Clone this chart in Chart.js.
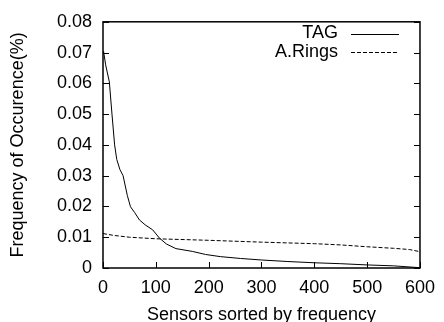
<!DOCTYPE html>
<html>
<head>
<meta charset="utf-8">
<script src="https://cdn.jsdelivr.net/npm/chart.js@4"></script>
<style>
  html, body { margin: 0; padding: 0; background: #fff; }
</style>
</head>
<body>
<canvas id="chart" width="444" height="322"></canvas>
<script>
const seriesNames = ["TAG", "A.Rings"];

const tagX = [1, 5, 12, 17, 22, 26, 32, 38, 46, 52, 60, 69, 80, 94, 107, 120, 138, 169, 194, 222, 260, 300, 350, 400, 450, 500, 550, 600];
const tagY = [0.0705, 0.066, 0.0605, 0.050, 0.040, 0.0353, 0.032, 0.030, 0.0236, 0.0199, 0.018, 0.0156, 0.0140, 0.0124, 0.0097, 0.0078, 0.0063, 0.0054, 0.0044, 0.0037, 0.0031, 0.0026, 0.0021, 0.0017, 0.0014, 0.0010, 0.0007, 0.0001];

const ringsX = [0, 20, 50, 100, 200, 300, 400, 450, 500, 550, 580, 600];
const ringsY = [0.0112, 0.0106, 0.0100, 0.0095, 0.0090, 0.0084, 0.0079, 0.0075, 0.0069, 0.0064, 0.0060, 0.0053];

const xTicks = [0, 100, 200, 300, 400, 500, 600];
const xTickLabels = ["0", "100", "200", "300", "400", "500", "600"];
const yTicks = [0, 0.01, 0.02, 0.03, 0.04, 0.05, 0.06, 0.07, 0.08];
const yTickLabels = ["0", "0.01", "0.02", "0.03", "0.04", "0.05", "0.06", "0.07", "0.08"];

const xTitle = "Sensors sorted by frequency";
const yTitle = "Frequency of Occurence(%)";

const FONT = "'Liberation Sans', Arial, Helvetica, sans-serif";

function toPoints(xs, ys) {
  return xs.map((x, i) => ({ x: x, y: ys[i] }));
}

// gnuplot style frame, inward ticks and legend
const framePlugin = {
  id: "frame",
  afterDatasetsDraw(chart) {
    const ctx = chart.ctx;
    const a = chart.chartArea;
    const sx = chart.scales.x, sy = chart.scales.y;
    ctx.save();
    ctx.strokeStyle = "#000";
    ctx.lineWidth = 1;
    ctx.beginPath();
    xTicks.forEach(v => {
      const px = Math.round(sx.getPixelForValue(v)) + 0.5;
      ctx.moveTo(px, a.bottom);
      ctx.lineTo(px, a.bottom - 6);
    });
    yTicks.forEach(v => {
      const py = Math.round(sy.getPixelForValue(v)) + 0.5;
      ctx.moveTo(a.left, py);
      ctx.lineTo(a.left + 6, py);
      ctx.moveTo(a.right, py);
      ctx.lineTo(a.right - 6, py);
    });
    ctx.stroke();
    ctx.lineWidth = 1.5;
    ctx.strokeRect(a.left, a.top, a.right - a.left, a.bottom - a.top);

    // legend
    ctx.font = "18px " + FONT;
    ctx.fillStyle = "#000";
    ctx.textAlign = "right";
    ctx.textBaseline = "middle";
    chart.data.datasets.forEach((ds, i) => {
      const y = 33.5 + i * 18.5;
      ctx.fillText(ds.label, a.right - 82, y);
      ctx.lineWidth = 1;
      ctx.setLineDash(ds.borderDash || []);
      ctx.beginPath();
      ctx.moveTo(a.right - 69, Math.round(y) + 0.5);
      ctx.lineTo(a.right - 21, Math.round(y) + 0.5);
      ctx.stroke();
      ctx.setLineDash([]);
    });
    ctx.restore();
  }
};

new Chart(document.getElementById("chart").getContext("2d"), {
  type: "scatter",
  data: {
    datasets: [
      {
        label: seriesNames[0],
        data: toPoints(tagX, tagY),
        showLine: true,
        borderColor: "#000",
        borderWidth: 1,
        pointRadius: 0,
        tension: 0
      },
      {
        label: seriesNames[1],
        data: toPoints(ringsX, ringsY),
        showLine: true,
        borderColor: "#000",
        borderWidth: 1,
        borderDash: [4, 2],
        pointRadius: 0,
        tension: 0
      }
    ]
  },
  options: {
    responsive: false,
    animation: false,
    layout: { padding: { top: 18, right: 20, left: 0, bottom: 0 } },
    plugins: {
      legend: { display: false },
      tooltip: { enabled: false }
    },
    scales: {
      x: {
        type: "linear",
        min: 0,
        max: 600,
        afterBuildTicks: s => { s.ticks = xTicks.map(v => ({ value: v })); },
        afterFit: s => { s.height = 54; },
        grid: { display: false, drawTicks: false },
        border: { display: false },
        ticks: {
          color: "#000",
          font: { family: FONT, size: 18 },
          padding: 9,
          maxRotation: 0,
          callback: (v, i) => xTickLabels[i]
        },
        title: {
          display: true,
          text: xTitle,
          color: "#000",
          font: { family: FONT, size: 18 },
          padding: { top: 0, bottom: -4 }
        }
      },
      y: {
        type: "linear",
        min: 0,
        max: 0.08,
        afterBuildTicks: s => { s.ticks = yTicks.map(v => ({ value: v })); },
        afterFit: s => { s.width = 103; },
        grid: { display: false, drawTicks: false },
        border: { display: false },
        ticks: {
          color: "#000",
          font: { family: FONT, size: 18 },
          padding: 11,
          callback: (v, i) => yTickLabels[i]
        },
        title: {
          display: true,
          text: yTitle,
          color: "#000",
          font: { family: FONT, size: 18 },
          padding: { top: 7, bottom: 0 }
        }
      }
    }
  },
  plugins: [framePlugin]
});
</script>
</body>
</html>
